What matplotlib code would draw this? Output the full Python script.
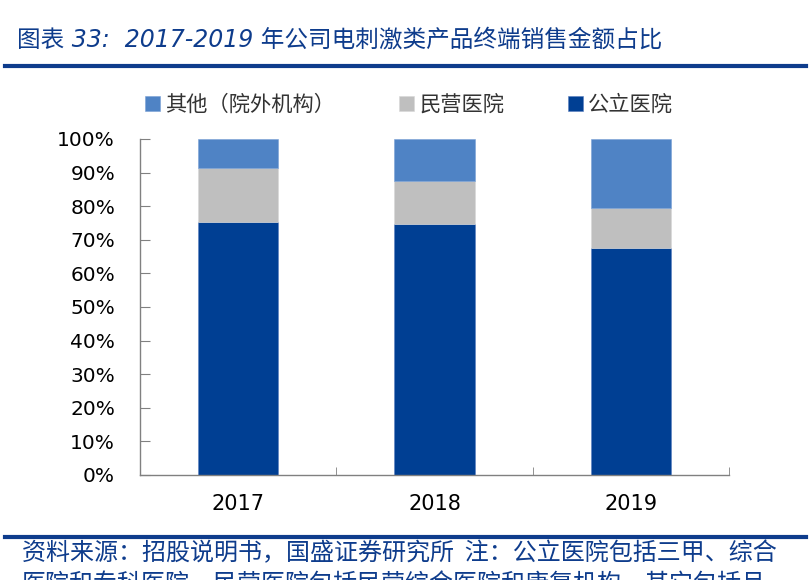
import numpy as np
import matplotlib
matplotlib.use('Agg')
import matplotlib.pyplot as plt
from matplotlib.ticker import FuncFormatter, FixedLocator

plt.rcParams['font.family'] = ['DejaVu Sans', 'Noto Sans CJK SC']

years = ['2017', '2018', '2019']
public = [75.3, 74.8, 67.5]   # 公立医院
private = [16.0, 12.7, 12.0]  # 民营医院
other = [8.7, 12.5, 20.5]     # 其他（院外机构）

c_public = '#003F93'
c_private = '#BFBFBF'
c_other = '#4F83C5'
c_title = '#0E3C8C'

fig = plt.figure(figsize=(8.12, 5.8), dpi=100)
ax = fig.add_axes([140 / 812, 1 - 475 / 580, 589 / 812, 336 / 580])

x = np.arange(len(years))
w = 0.41
ax.bar(x, public, w, color=c_public, label='公立医院', edgecolor='#5a7fc0', linewidth=0.4)
ax.bar(x, private, w, bottom=public, color=c_private, label='民营医院', edgecolor='#d8d8d8', linewidth=0.4)
bottom2 = [a + b for a, b in zip(public, private)]
ax.bar(x, other, w, bottom=bottom2, color=c_other, label='其他（院外机构）', edgecolor='#7aa0d6', linewidth=0.4)

ax.set_xlim(-0.5, 2.5)
ax.set_ylim(0, 100)
ax.yaxis.set_major_locator(FixedLocator(np.arange(0, 101, 10)))
ax.yaxis.set_major_formatter(FuncFormatter(lambda v, _: f'{v:.0f}%'))
ax.set_xticks(x)
ax.set_xticklabels(years)
ax.xaxis.set_minor_locator(FixedLocator([-0.5, 0.5, 1.5, 2.5]))
ax.tick_params(axis='x', which='major', length=0, labelsize=15, pad=14)
ax.tick_params(axis='x', which='minor', direction='in', length=6, color='#808080')
ax.tick_params(axis='y', direction='in', length=7, color='#808080', labelsize=14.5, pad=18)
for s in ['top', 'right']:
    ax.spines[s].set_visible(False)
for s in ['left', 'bottom']:
    ax.spines[s].set_color('#808080')
    ax.spines[s].set_linewidth(1.0)

# legend in reverse order as in reference
handles, labels = ax.get_legend_handles_labels()
leg = fig.legend(handles[::-1], labels[::-1],
                 loc='center', bbox_to_anchor=(409 / 812, 1 - 105 / 580),
                 ncol=3, frameon=False, handlelength=0.7, handleheight=0.7, handletextpad=0.25,
                 columnspacing=3.0, prop={'family': ['Noto Sans CJK SC'], 'size': 15.3})
for t in leg.get_texts():
    t.set_color('#333333')

# title and rules
fig.text(17 / 812, 1 - 40 / 580, '图表 33:  2017-2019 年公司电刺激类产品终端销售金额占比',
         family=['DejaVu Sans', 'Noto Sans CJK SC'], style='italic', fontsize=17, color=c_title,
         va='center', ha='left')
fig.add_artist(plt.Line2D([5 / 812, 806 / 812], [1 - 66 / 580] * 2, color='#0E3C8C', lw=3))
fig.add_artist(plt.Line2D([5 / 812, 806 / 812], [1 - 537 / 580] * 2, color='#0E3C8C', lw=3))
fig.text(22 / 812, 1 - 553 / 580, '资料来源：招股说明书，国盛证券研究所  注：公立医院包括三甲、综合',
         family=['Noto Sans CJK SC', 'DejaVu Sans'], style='italic', fontsize=17.3, color=c_title,
         va='center', ha='left')
fig.text(22 / 812, 1 - 584 / 580, '医院和专科医院，民营医院包括民营综合医院和康复机构，其它包括月',
         family=['Noto Sans CJK SC', 'DejaVu Sans'], style='italic', fontsize=17.3, color=c_title,
         va='center', ha='left')

fig.savefig('out.png', dpi=100)
